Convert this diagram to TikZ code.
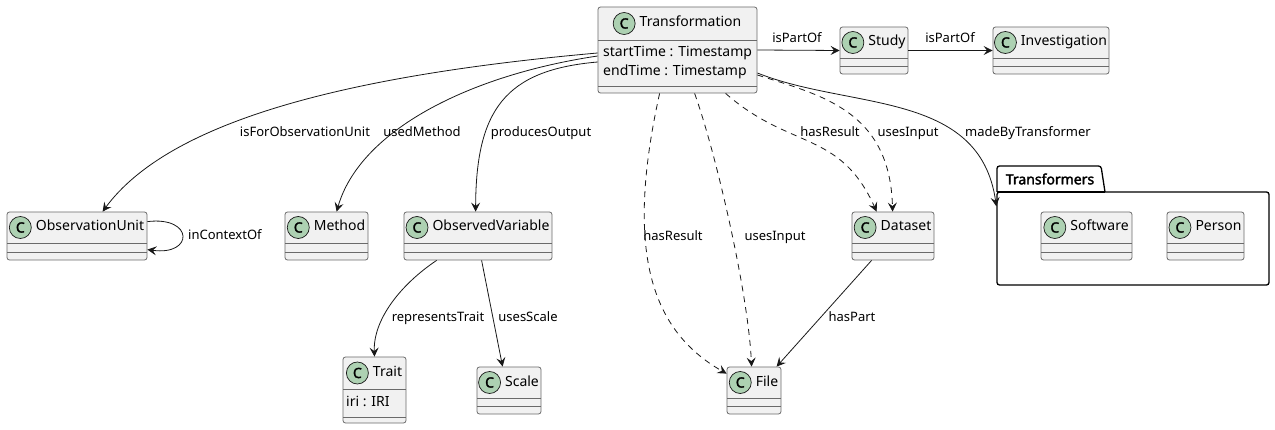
\documentclass[tikz,border=0pt]{standalone}
\usepackage{fontspec}
\setmainfont{Noto Sans}
\newfontfamily\boldsans{Noto Sans}[FakeBold=2.2]
\usetikzlibrary{arrows.meta,fit,positioning,calc}
\definecolor{clsfill}{HTML}{F1F1F1}
\definecolor{clsline}{HTML}{181818}
\definecolor{boxline}{HTML}{6A6A6A}
\definecolor{badgefill}{HTML}{ADD1B2}
\tikzset{
  clsbox/.style={draw=boxline, line width=0.8pt, fill=clsfill, rounded corners=2.5pt, inner sep=0pt},
  sepl/.style={draw=boxline, line width=0.8pt},
  ttl/.style={font=\fontsize{14}{16}\selectfont, inner sep=0pt, text height=10pt, text depth=3pt},
  badge/.style={circle, draw=clsline, line width=0.7pt, fill=badgefill, minimum size=22pt, inner sep=0pt, font=\boldsans\fontsize{14}{16}\selectfont},
  attr/.style={anchor=west, font=\fontsize{14}{16}\selectfont, inner sep=0pt, text height=10pt, text depth=3pt},
  rel/.style={draw=clsline, line width=0.8pt, -{Stealth[length=9pt,width=9pt,inset=3.5pt]}},
  dep/.style={rel, dash pattern=on 6pt off 5pt},
  lbl/.style={font=\fontsize{13}{15}\selectfont, inner sep=0pt, text height=9.5pt, text depth=2.5pt},
  pkgbox/.style={draw=black, line width=1.3pt, fill=white, rounded corners=2.5pt, inner sep=0pt},
}
\newcommand{\umlcls}[8]{%
  \node[clsbox, fit={(#2,#3) (#4,#5)}] (#1) {};
  \draw[sepl] (#2,#6) -- (#4,#6);
  \draw[sepl] (#2,#7) -- (#4,#7);
  \node[ttl] (#1-t) at ({(#2+#4)/2+13},{(#3+#6)/2}) {#8};
  \node[badge, left=4pt of #1-t] (#1-c) {C};
}
\begin{document}
\begin{tikzpicture}[x=1pt, y=-1pt]
\useasboundingbox (0,0) rectangle (1275,430);

% package
\node[pkgbox, fit={(997,192) (1269,285)}] (pk) {};
\draw[draw=black, line width=1.3pt, fill=white, rounded corners=2.5pt] (997,192) -- (997,166) -- (1101,166) -- (1105,192);
\draw[draw=black, line width=1.3pt] (997,192) -- (1105,192);
\node[font=\boldsans\fontsize{14}{16}\selectfont, inner sep=0pt] (pk-t) at (1050,179) {Transformers};

% classes
\umlcls{tr}{598}{7}{757}{93}{40}{86}{Transformation}
\node[attr] (tr-a1) at (603,53) {startTime : Timestamp};
\node[attr] (tr-a2) at (603,72) {endTime : Timestamp};
\umlcls{st}{840}{27}{908}{74}{58}{66}{Study}
\umlcls{iv}{993}{27}{1109}{74}{58}{66}{Investigation}
\umlcls{ou}{7}{212}{147}{260}{243}{252}{ObservationUnit}
\umlcls{me}{285}{212}{368}{260}{243}{252}{Method}
\umlcls{ov}{404}{212}{552}{260}{243}{252}{ObservedVariable}
\umlcls{ds}{852}{212}{934}{260}{243}{252}{Dataset}
\umlcls{sw}{1041}{212}{1132}{260}{243}{252}{Software}
\umlcls{pe}{1167}{212}{1244}{260}{243}{252}{Person}
\umlcls{ta}{343}{357}{406}{423}{389}{417}{Trait}
\node[attr] (ta-a1) at (346,403) {iri : IRI};
\umlcls{sc}{477}{367}{541}{414}{398}{406}{Scale}
\umlcls{fi}{727}{367}{781}{414}{398}{406}{File}

% connectors
\draw[rel] (tr.east) -- (st.west);
\draw[rel] (st.east) -- (iv.west);
\draw[rel] ([shift={(0,3)}]tr.west) .. controls (350,75) and (170,120) .. ([shift={(96,0)}]ou.north west);
\draw[rel] ([shift={(0,6)}]tr.west) .. controls (470,75) and (360,130) .. ([shift={(52,0)}]me.north west);
\draw[rel] ([shift={(0,12)}]tr.west) .. controls (505,70) and (476,110) .. ([shift={(72,0)}]ov.north west);
\draw[dep] ([shift={(62,0)}]tr.south west) .. controls (625,250) and (650,330) .. ([shift={(0,7)}]fi.north west);
\draw[dep] ([shift={(97,0)}]tr.south west) .. controls (715,150) and (748,290) .. ([shift={(25,0)}]fi.north west);
\draw[dep] ([shift={(128,0)}]tr.south west) .. controls (790,150) and (840,130) .. ([shift={(25,0)}]ds.north west);
\draw[dep] ([shift={(0,25)}]tr.east) .. controls (820,95) and (890,110) .. ([shift={(41,0)}]ds.north west);
\draw[rel] ([shift={(0,23)}]tr.east) .. controls (850,110) and (980,90) .. ([shift={(0,15)}]pk.north west);
\draw[rel] ([shift={(0,10)}]ou.north east) .. controls (194,216) and (194,256) .. ([shift={(0,38)}]ou.north east);
\draw[rel] ([shift={(33,0)}]ov.south west) .. controls (400,285) and (373,320) .. (ta.north);
\draw[rel] ([shift={(78,0)}]ov.south west) -- ([shift={(26,0)}]sc.north west);
\draw[rel] ([shift={(20,0)}]ds.south west) -- ([shift={(50,0)}]fi.north west);

% labels
\node[lbl] (l1) at (797,39) {isPartOf};
\node[lbl] (l2) at (950,39) {isPartOf};
\node[lbl] (l3) at (305,133) {isForObservationUnit};
\node[lbl] (l4) at (422,133) {usedMethod};
\node[lbl] (l5) at (541,133) {producesOutput};
\node[lbl] (l6) at (673,237) {hasResult};
\node[lbl] (l7) at (775,237) {usesInput};
\node[lbl] (l8) at (830,133) {hasResult};
\node[lbl] (l9) at (908,133) {usesInput};
\node[lbl] (l10) at (1028,133) {madeByTransformer};
\node[lbl, anchor=west] (l11) at (188,236) {inContextOf};
\node[lbl] (l12) at (438,318) {representsTrait};
\node[lbl] (l13) at (528,318) {usesScale};
\node[lbl] (l14) at (852,318) {hasPart};
\end{tikzpicture}
\end{document}
